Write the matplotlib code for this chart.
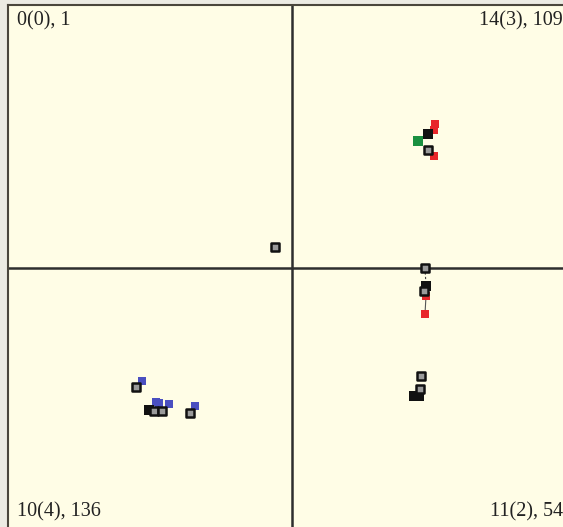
import matplotlib.pyplot as plt

# point positions (x, y), origin at the crossing of the two axes
open_x = [-17, 136, 133, 132, -156, -138, -130, -102, 129, 128]
open_y = [21, 118, 0, -23, -119, -143, -143, -145, -108, -121]
black_x = [136, 134, -143, 122, 127]
black_y = [134, -18, -142, -128, -128]
red_x = [143, 142, 142, 134, 133]
red_y = [144, 138, 112, -28, -46]
green_x = [126]
green_y = [127]
blue_x = [-150, -136, -133, -123, -97]
blue_y = [-113, -134, -135, -136, -138]

corner_labels = ["0(0), 1", "14(3), 109", "10(4), 136", "11(2), 54"]

fig = plt.figure(figsize=(5.63, 5.27), dpi=100)
fig.patch.set_facecolor("#ecebe3")
ax = fig.add_axes([8 / 563, 0, 555 / 563, 522 / 527])
ax.set_facecolor("#fffde6")
ax.set_xlim(-284, 271)
ax.set_ylim(-259, 263)

# quadrant lines
ax.axhline(0, color="#2e2e2e", lw=1.8, zorder=1)
ax.axvline(0, color="#2e2e2e", lw=1.8, zorder=1)

# links between points
ax.plot([open_x[2], black_x[1]], [open_y[2], black_y[1]], color="#444444",
        lw=0.8, ls=(0, (2, 2)), zorder=2)
ax.plot([red_x[3], red_x[4]], [red_y[3], red_y[4]], color="#555555", lw=0.8, zorder=2)

ax.scatter(red_x, red_y, marker="s", s=30, color="#e8262a", lw=0, zorder=3)
ax.scatter(blue_x, blue_y, marker="s", s=30, color="#4a4fc0", lw=0, zorder=3)
ax.scatter(green_x, green_y, marker="s", s=45, color="#1a9040", lw=0, zorder=3)
ax.scatter(black_x, black_y, marker="s", s=55, color="#111111", lw=0, zorder=4)
ax.scatter(open_x, open_y, marker="s", s=32, facecolor="#9a9a9a",
           edgecolor="#111111", lw=1.8, zorder=5)

for s in ["right", "bottom"]:
    ax.spines[s].set_visible(False)
for s in ["left", "top"]:
    ax.spines[s].set_color("#4a463c")
    ax.spines[s].set_linewidth(1.5)
ax.set_xticks([])
ax.set_yticks([])

font = dict(family="Liberation Serif", fontsize=14.5, color="#222222")
ax.text(0.016, 0.988, corner_labels[0], transform=ax.transAxes, ha="left", va="top", **font)
ax.text(1.0, 0.988, corner_labels[1], transform=ax.transAxes, ha="right", va="top", **font)
ax.text(0.016, 0.01, corner_labels[2], transform=ax.transAxes, ha="left", va="bottom", **font)
ax.text(1.0, 0.01, corner_labels[3], transform=ax.transAxes, ha="right", va="bottom", **font)

fig.savefig("out.png", dpi=100)
